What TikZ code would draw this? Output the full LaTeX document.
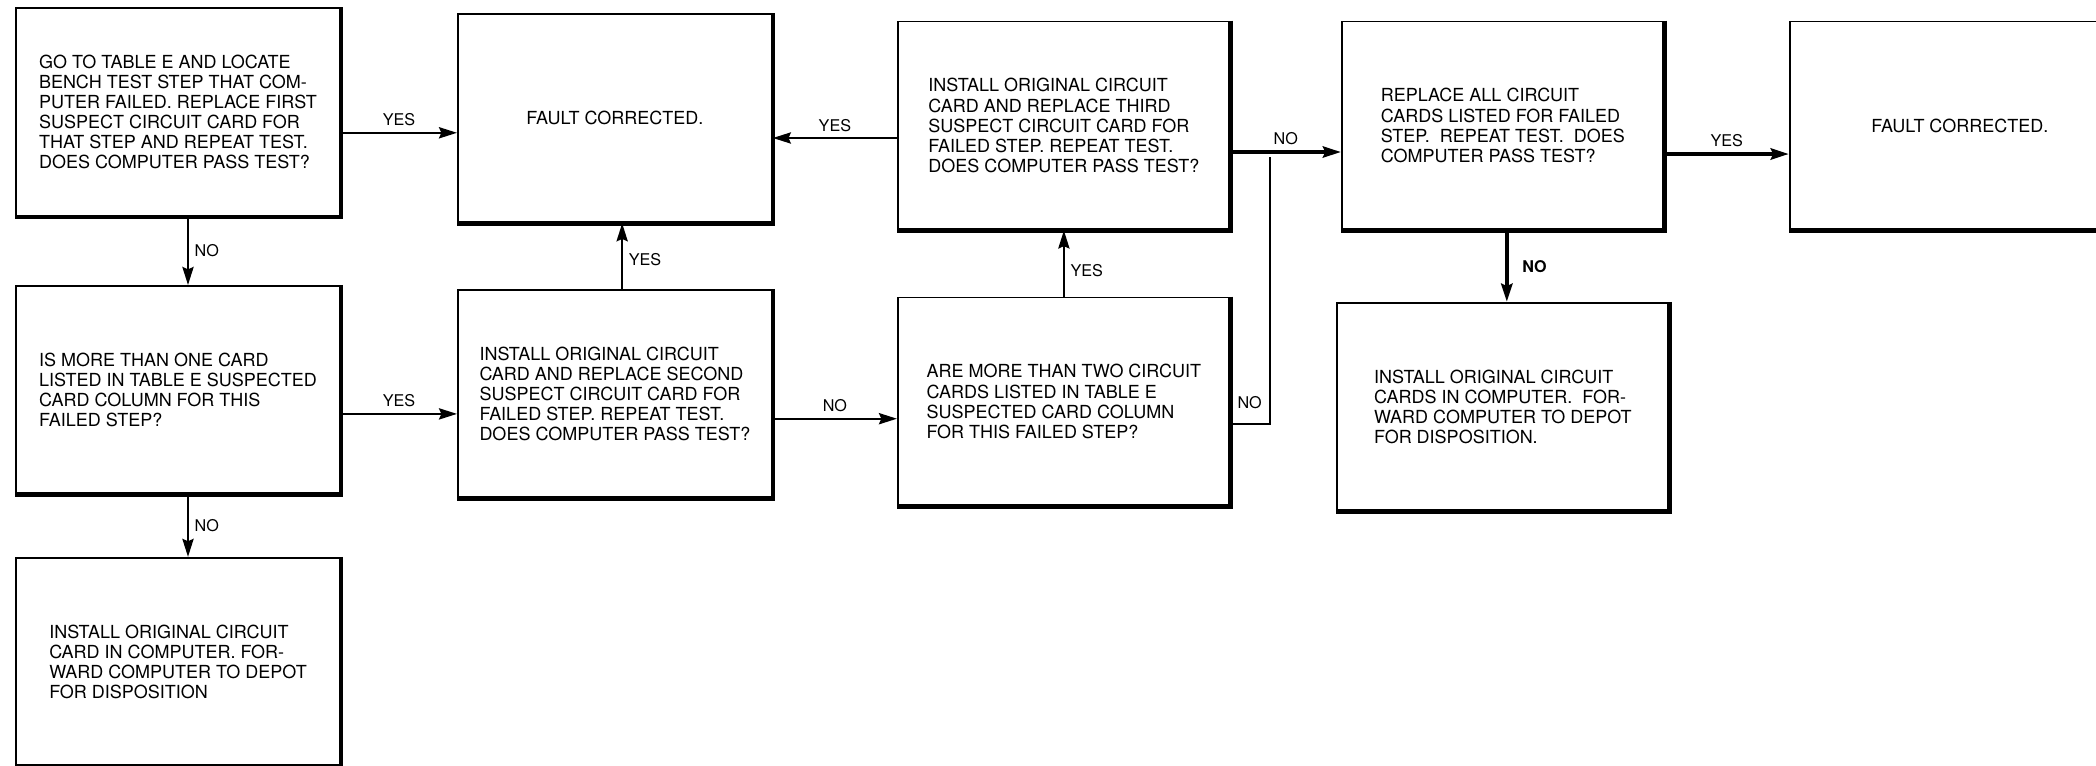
\documentclass[tikz,border=0pt]{standalone}
\usepackage{fontspec}
\setmainfont{TeX Gyre Heros}
\usetikzlibrary{arrows, arrows.meta, positioning}
\tikzstyle{stepbox} = [rectangle, draw=black, line width=1.3pt, minimum width=8.1cm, minimum height=5.2cm, align=left, font=\fontsize{12.8}{14.3}\selectfont]
\tikzstyle{arrow} = [line width=1.5pt, -{Stealth[length=0.45cm, width=0.28cm, inset=0.06cm]}]
\tikzstyle{heavyarrow} = [arrow, line width=2.6pt]
\tikzstyle{edgeline} = [line width=1.5pt]

\begin{document}
\begin{tikzpicture}[x=0.025cm, y=-0.025cm, node distance=2cm, auto, font=\fontsize{11.5}{13}\selectfont, inner sep=4pt]
        % scanned sheet, the last box runs off the right edge
        \path[use as bounding box, clip] (0,0) rectangle (2096,766);

        \node[stepbox] (locate) at (178,112) {GO TO TABLE E AND LOCATE\\BENCH TEST STEP THAT COM-\\PUTER FAILED. REPLACE FIRST\\SUSPECT CIRCUIT CARD FOR\\THAT STEP AND REPEAT TEST.\\DOES COMPUTER PASS TEST?};
        \node[stepbox, right=2.9cm of locate, yshift=-0.16cm, minimum width=7.85cm] (fixed1) {FAULT CORRECTED.};
        \node[stepbox, below=1.7cm of locate] (multi) {IS MORE THAN ONE CARD\\LISTED IN TABLE E SUSPECTED\\CARD COLUMN FOR THIS\\FAILED STEP?};
        \node[stepbox, below=1.55cm of multi] (depot1) {INSTALL ORIGINAL CIRCUIT\\CARD IN COMPUTER. FOR-\\WARD COMPUTER TO DEPOT\\FOR DISPOSITION};
        \node[stepbox, right=2.9cm of multi, yshift=-0.1cm, minimum width=7.85cm] (second) {INSTALL ORIGINAL CIRCUIT\\CARD AND REPLACE SECOND\\SUSPECT CIRCUIT CARD FOR\\FAILED STEP. REPEAT TEST.\\DOES COMPUTER PASS TEST?};
        \node[stepbox, right=3.1cm of fixed1, yshift=-0.18cm, minimum width=8.3cm] (third) {INSTALL ORIGINAL CIRCUIT\\CARD AND REPLACE THIRD\\SUSPECT CIRCUIT CARD FOR\\FAILED STEP. REPEAT TEST.\\DOES COMPUTER PASS TEST?};
        \node[stepbox, below=1.65cm of third, minimum width=8.3cm] (more2) {ARE MORE THAN TWO CIRCUIT\\CARDS LISTED IN TABLE E\\SUSPECTED CARD COLUMN\\FOR THIS FAILED STEP?};
        \node[stepbox, right=2.75cm of third, minimum width=8.05cm] (replall) {REPLACE ALL CIRCUIT\\CARDS LISTED FOR FAILED\\STEP.\ \ REPEAT TEST.\ \ DOES\\COMPUTER PASS TEST?};
        \node[stepbox, below=1.78cm of replall, minimum width=8.3cm] (depot2) {INSTALL ORIGINAL CIRCUIT\\CARDS IN COMPUTER.\ \ FOR-\\WARD COMPUTER TO DEPOT\\FOR DISPOSITION.};
        \node[stepbox, right=3.1cm of replall, minimum width=8.5cm] (fixed2) {FAULT CORRECTED.};

        % heavy right and bottom edges
        \foreach \n in {locate, fixed1, multi, depot1, second, third, more2, replall, depot2, fixed2}
            \draw[line width=3.4pt] (\n.north east) -- (\n.south east) -- (\n.south west);

        \draw[arrow] ([yshift=-0.52cm]locate.east) -- ([yshift=-0.52cm]locate.east -| fixed1.west) node[midway, above] {YES};
        \draw[arrow] ([xshift=0.25cm]locate.south) -- ([xshift=0.25cm]locate.south |- multi.north) node[midway, right] {NO};
        \draw[arrow] ([yshift=-0.6cm]multi.east) -- ([yshift=-0.6cm]multi.east -| second.west) node[midway, above] {YES};
        \draw[arrow] ([xshift=0.25cm]multi.south) -- ([xshift=0.25cm]multi.south |- depot1.north) node[midway, right] {NO};
        \draw[arrow] ([xshift=0.18cm]second.north) -- ([xshift=0.18cm]second.north |- fixed1.south) node[pos=0.45, right] {YES};
        \draw[arrow] ([yshift=-0.62cm]second.east) -- ([yshift=-0.62cm]second.east -| more2.west) node[midway, above] {NO};
        \draw[arrow] (more2.north) -- (third.south) node[pos=0.4, right] {YES};
        \draw[edgeline] ([yshift=-0.56cm]more2.east) -| ([xshift=0.98cm, yshift=-0.79cm]third.east) node[pos=0, anchor=south west, yshift=0.2cm] {NO};
        \draw[arrow] ([yshift=-0.31cm]third.west) -- ([yshift=-0.31cm]third.west -| fixed1.east) node[midway, above] {YES};
        \draw[heavyarrow] ([yshift=-0.66cm]third.east) -- ([yshift=-0.66cm]third.east -| replall.west) node[midway, above] {NO};
        \draw[heavyarrow] ([yshift=-0.71cm]replall.east) -- ([yshift=-0.71cm]replall.east -| fixed2.west) node[midway, above] {YES};
        \draw[heavyarrow] ([xshift=0.1cm]replall.south) -- ([xshift=0.1cm]replall.south |- depot2.north) node[midway, right, xshift=0.2cm] {\bfseries NO};
    \end{tikzpicture}
\end{document}
